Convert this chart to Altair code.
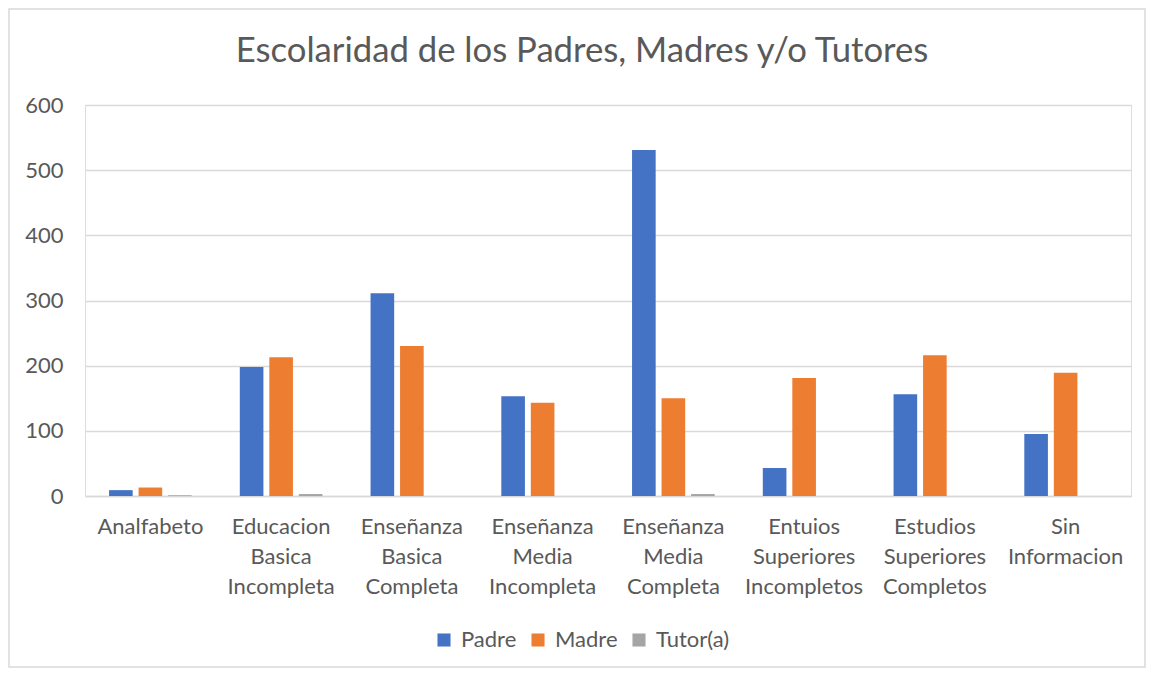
import altair as alt
import pandas as pd

categories = ["Analfabeto", "Educacion Basica Incompleta", "Enseñanza Basica Completa",
              "Enseñanza Media Incompleta", "Enseñanza Media Completa",
              "Entuios Superiores Incompletos", "Estudios Superiores Completos", "Sin Informacion"]
series = ["Padre", "Madre", "Tutor(a)"]
padre = [9, 198, 311, 153, 531, 43, 156, 95]
madre = [13, 213, 230, 143, 150, 181, 216, 189]
tutor = [1, 3, 0, 0, 3, 0, 0, 0]
colors = ["#4472C4", "#ED7D31", "#A5A5A5"]

rows = []
for i, c in enumerate(categories):
    for s, vals in zip(series, [padre, madre, tutor]):
        rows.append({"cat": c, "serie": s, "valor": vals[i]})
df = pd.DataFrame(rows)

FONT = "Lato"
GRAY = "#595959"

bars = alt.Chart(df).mark_bar().encode(
    x=alt.X("cat:N", sort=categories, title=None,
            scale=alt.Scale(paddingInner=0.368, paddingOuter=0.184),
            axis=alt.Axis(labelAngle=0, labelExpr="split(datum.value, ' ')",
                          labelFontSize=22, labelColor=GRAY, labelFont=FONT,
                          labelLineHeight=30, labelPadding=20, ticks=False,
                          domainColor="#D9D9D9", domainWidth=1.5, labelBaseline="top")),
    xOffset=alt.XOffset("serie:N", sort=series,
                        scale=alt.Scale(paddingInner=0.2, paddingOuter=0)),
    y=alt.Y("valor:Q", title=None,
            scale=alt.Scale(domain=[0, 600], nice=False),
            axis=alt.Axis(values=[0, 100, 200, 300, 400, 500, 600], labelFontSize=22,
                          labelColor=GRAY, labelFont=FONT, labelPadding=22, ticks=False,
                          domain=False, gridColor="#D9D9D9", gridWidth=1.3)),
    color=alt.Color("serie:N", sort=series, title=None,
                    scale=alt.Scale(domain=series, range=colors),
                    legend=alt.Legend(orient="none", legendX=348, legendY=130 + 394,
                                      direction="horizontal", symbolType="square",
                                      symbolSize=170, symbolStrokeWidth=0,
                                      labelFontSize=22, labelColor=GRAY, labelFont=FONT,
                                      columnPadding=10, labelOffset=6)),
)

frame = alt.Chart(pd.DataFrame({"k": [0]})).mark_rect(
    fill=None, stroke="#D9D9D9", strokeWidth=1.5, clip=False
).encode(x=alt.value(-76), x2=alt.value(1060), y=alt.value(-96), y2=alt.value(562))

chart = alt.layer(frame, bars).properties(
    width=1046, height=391,
    title=alt.TitleParams("Escolaridad de los Padres, Madres y/o Tutores",
                          fontSize=34.7, font=FONT, fontWeight="normal", color=GRAY,
                          anchor="middle", frame="group", dx=-26, offset=0, dy=61),
    autosize=alt.AutoSizeParams(type="none"),
    padding={"left": 77, "top": 97, "right": 15, "bottom": 172},
).configure_view(stroke=None).configure(background="white")

chart.save("out.html", embed_options={"renderer": "svg", "actions": False})
